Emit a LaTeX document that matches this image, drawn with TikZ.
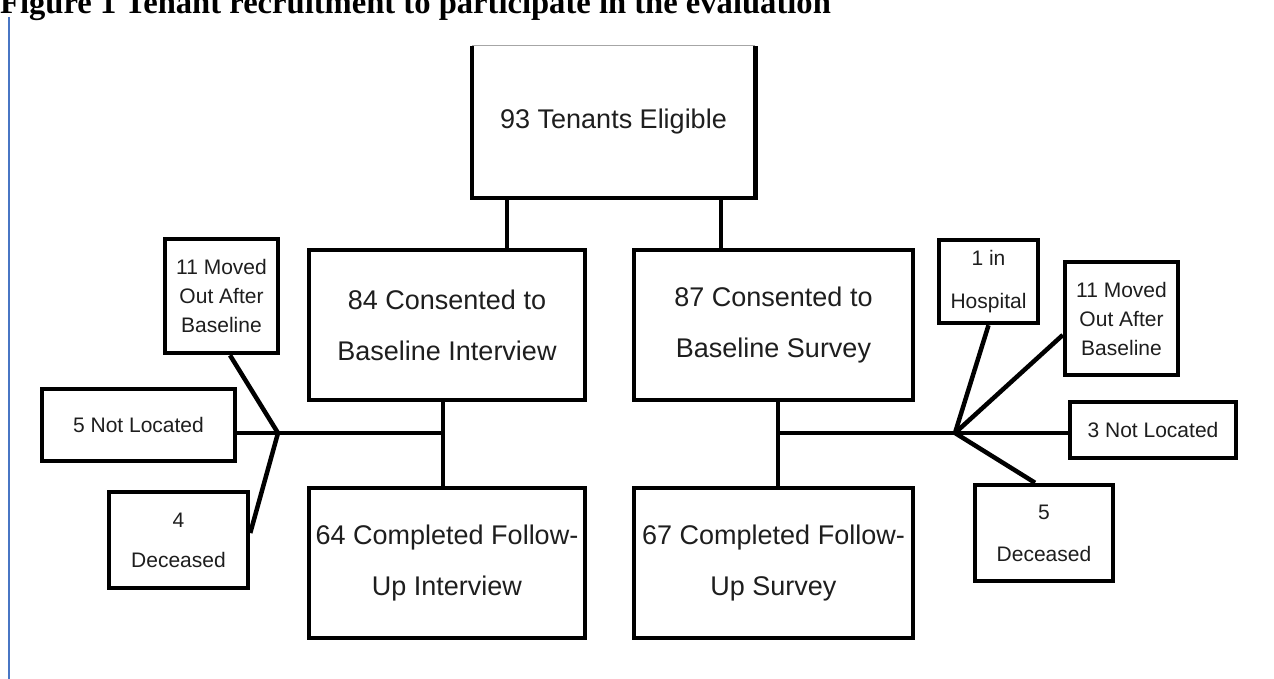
\documentclass[tikz,border=0pt]{standalone}
\usepackage{fontspec}
\setmainfont{Liberation Sans}
\newfontfamily\titlefont{Liberation Serif}
\usetikzlibrary{calc}
\definecolor{rulerblue}{RGB}{72,118,196}
\definecolor{txt}{RGB}{30,30,30}
\begin{document}
\begin{tikzpicture}[x=1pt,y=-1pt,
  box/.style={draw=black, line width=4.5pt, inner sep=0pt, align=center, text=txt},
  bigbox/.style={box, font=\fontsize{27}{51}\selectfont},
  smallbox/.style={box, font=\fontsize{21}{29}\selectfont},
  conn/.style={line width=4.5pt, line cap=butt}]
\useasboundingbox (0,0) rectangle (1274,679);
\fill[white] (0,0) rectangle (1274,679);
% title and page rule
\node[anchor=base west, inner sep=0pt, font=\titlefont\bfseries\fontsize{32.6}{36}\selectfont] (title) at (0,14) {Figure 1 Tenant recruitment to participate in the evaluation};
\coordinate (ruletop) at (9,17);
\coordinate (rulebot) at (9,679);
\draw[rulerblue, line width=2pt] (ruletop) -- (rulebot);
% top box (top edge cropped)
\node[bigbox, draw=none, minimum width=279pt, minimum height=148pt] (top) at (613.5,122) {93 Tenants Eligible};
\draw[conn, line join=miter] (top.north west) -- (top.south west) -- (top.south east) -- (top.north east);
\draw[gray!70, line width=1pt] (top.north west) -- (top.north east);
% main boxes
\node[bigbox, minimum width=276pt, minimum height=150pt] (lmid) at (447,325) {84 Consented to\\Baseline Interview};
\node[bigbox, minimum width=279pt, minimum height=150pt] (rmid) at (773.5,325) {87 Consented to\\Baseline Survey};
\node[bigbox, minimum width=276pt, minimum height=150pt] (lbot) at (447,563) {64 Completed Follow-\\Up Interview};
\node[bigbox, minimum width=279pt, minimum height=150pt] (rbot) at (773.5,563) {67 Completed Follow-\\Up Survey};
% left side boxes
\node[smallbox, minimum width=113pt, minimum height=114pt] (lmoved) at (221.5,296) {11 Moved\\Out After\\Baseline};
\node[smallbox, minimum width=193pt, minimum height=72pt] (lnot) at (138.5,425) {5 Not Located};
\node[box, font=\fontsize{21}{40}\selectfont, minimum width=139pt, minimum height=96pt] (ldec) at (178.5,540) {4\\Deceased};
% right side boxes
\node[box, font=\fontsize{21}{43}\selectfont, minimum width=99pt, minimum height=83pt] (rhosp) at (988.5,281.5) {1 in\\Hospital};
\node[smallbox, minimum width=113pt, minimum height=113pt] (rmoved) at (1121.5,318.5) {11 Moved\\Out After\\Baseline};
\node[smallbox, minimum width=166pt, minimum height=56pt] (rnot) at (1153,430) {3 Not Located};
\node[box, font=\fontsize{21}{42}\selectfont, minimum width=138pt, minimum height=96pt] (rdec) at (1044,533) {5\\Deceased};
% junctions
\coordinate (jl) at (278,433);
\coordinate (jr) at (955,433);
\coordinate (lstem) at (443,433);
\coordinate (rstem) at (778,433);
% connectors from top box
\draw[conn] (507,0 |- top.south) -- (507,0 |- lmid.north);
\draw[conn] (721,0 |- top.south) -- (721,0 |- rmid.north);
% left tree
\draw[conn] (lstem |- lmid.south) -- (lstem |- lbot.north);
\draw[conn] (lstem) -- (jl);
\draw[conn] (jl) -- (jl -| lnot.east);
\draw[conn] (jl) -- ($(lmoved.south)+(8.5,0)$);
\draw[conn] (jl) -- ($(ldec.east)+(0,-7)$);
% right tree
\draw[conn] (rstem |- rmid.south) -- (rstem |- rbot.north);
\draw[conn] (rstem) -- (jr);
\draw[conn] (jr) -- (jr -| rnot.west);
\draw[conn] (jr) -- (rhosp.south);
\draw[conn] (jr) -- ($(rmoved.west)+(0,16.5)$);
\draw[conn] (jr) -- ($(rdec.north)+(-9,0)$);
\end{tikzpicture}
\end{document}
